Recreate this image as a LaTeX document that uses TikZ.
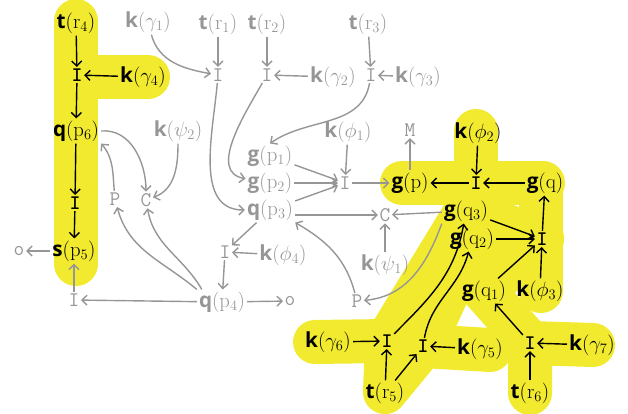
\documentclass[tikz,border=0pt]{standalone}
\usepackage{fontspec}
\setsansfont{Open Sans}
\usetikzlibrary{arrows.meta,backgrounds}
\definecolor{gry}{RGB}{150,150,150}
\definecolor{hl}{RGB}{242,234,46}
\newcommand\fnk[3]{\textsf{\bfseries #1}$(\mathrm{#2}_{#3})$}
\newcommand\fnp[2]{\textsf{\bfseries #1}$(\mathrm{#2})$}
\tikzset{
  lbl/.style={inner sep=2pt, font=\huge},
  gt/.style={lbl, text=gry},
  bt/.style={lbl, text=black},
  ttg/.style={inner sep=1.5pt, font=\ttfamily\huge, text=gry},
  ttb/.style={inner sep=1.5pt, font=\ttfamily\bfseries\huge, text=black},
  arr/.style={-{Straight Barb[length=5pt,width=10pt]}, line width=1.4pt},
  ge/.style={arr, draw=gry},
  be/.style={arr, draw=black},
  hlp/.style={draw=hl, line width=44pt, line cap=round, line join=round}
}
\begin{document}
\begin{tikzpicture}[x=1pt,y=-1pt]
\useasboundingbox (0,0) rectangle (628,414);
% nodes
\node[bt] (tr4) at (76,23) {\fnk{t}{r}{4}};
\node[ttb] (Ia) at (77,75) {I};
\node[bt] (kg4) at (143,77) {\fnk{k}{\gamma}{4}};
\node[bt] (qp6) at (76,131) {\fnk{q}{p}{6}};
\node[ttb] (Ib) at (75,203) {I};
\node[bt] (sp5) at (74,251) {\fnk{s}{p}{5}};
\node[ttg] (oL) at (19,251) {o};
\node[ttg] (Ic) at (74,300) {I};
\node[gt] (qp4) at (222,302) {\fnk{q}{p}{4}};
\node[ttg] (oR) at (290,301) {o};
\node[gt] (kg1) at (148,22) {\fnk{k}{\gamma}{1}};
\node[gt] (tr1) at (218,24) {\fnk{t}{r}{1}};
\node[ttg] (Ir1) at (218,75) {I};
\node[gt] (tr2) at (267,24) {\fnk{t}{r}{2}};
\node[ttg] (Ir2) at (267,75) {I};
\node[gt] (kg2) at (333,77) {\fnk{k}{\gamma}{2}};
\node[gt] (tr3) at (368,24) {\fnk{t}{r}{3}};
\node[ttg] (Ir3) at (371,75) {I};
\node[gt] (kg3) at (418,77) {\fnk{k}{\gamma}{3}};
\node[gt] (kpsi2) at (178,131) {\fnk{k}{\psi}{2}};
\node[ttg] (Pl) at (115,199) {P};
\node[ttg] (Cl) at (146,200) {C};
\node[gt] (kphi1) at (348,132) {\fnk{k}{\phi}{1}};
\node[ttg] (M) at (410,130) {M};
\node[gt] (gp1) at (270,156) {\fnk{g}{p}{1}};
\node[gt] (gp2) at (270,183) {\fnk{g}{p}{2}};
\node[gt] (qp3) at (270,210) {\fnk{q}{p}{3}};
\node[ttg] (Iphi1) at (345,183) {I};
\node[bt] (gp) at (410,183) {\fnp{g}{p}};
\node[ttb] (Iphi2) at (476,183) {I};
\node[bt] (kphi2) at (478,133) {\fnk{k}{\phi}{2}};
\node[bt] (gq) at (545,183) {\fnp{g}{q}};
\node[ttg] (Cm) at (385,215) {C};
\node[gt] (kpsi1) at (385,265) {\fnk{k}{\psi}{1}};
\node[ttg] (Iphi4) at (225,252) {I};
\node[gt] (kphi4) at (283,255) {\fnk{k}{\phi}{4}};
\node[ttg] (Pb) at (357,301) {P};
\node[bt] (gq3) at (466,211) {\fnk{g}{q}{3}};
\node[bt] (gq2) at (472,239) {\fnk{g}{q}{2}};
\node[bt] (gq1) at (484,291) {\fnk{g}{q}{1}};
\node[ttb] (Iq) at (542,239) {I};
\node[bt] (kphi3) at (540,291) {\fnk{k}{\phi}{3}};
\node[bt] (kg6) at (328,342) {\fnk{k}{\gamma}{6}};
\node[ttb] (Ig6) at (387,341) {I};
\node[ttb] (Ig5) at (423,346) {I};
\node[bt] (kg5) at (480,349) {\fnk{k}{\gamma}{5}};
\node[bt] (tr5) at (385,393) {\fnk{t}{r}{5}};
\node[ttb] (Ig7) at (530,343) {I};
\node[bt] (kg7) at (592,345) {\fnk{k}{\gamma}{7}};
\node[bt] (tr6) at (530,393) {\fnk{t}{r}{6}};
% highlight
\begin{scope}[on background layer]
\draw[hlp] (76,21) -- (76,264);
\draw[hlp] (77,77) -- (148,77);
\draw[hlp] (402,183) -- (543,183);
\draw[hlp] (476,131) -- (476,183);
\draw[hlp] (541,183) -- (541,291);
\draw[hlp] (466,211) -- (542,239) -- (472,239);
\draw[hlp] (484,291) -- (542,239);
\draw[hlp] (387,341) -- (466,211);
\draw[hlp] (423,346) -- (472,239);
\draw[hlp] (530,343) -- (484,291);
\draw[hlp] (315,342) -- (387,341) -- (385,392) -- (423,346) -- (490,350);
\draw[hlp] (593,345) -- (530,343) -- (530,393);
\end{scope}
% black edges
\draw[be] (tr4) -- (Ia);
\draw[be] (kg4) -- (Ia);
\draw[be] (Ia) -- (qp6);
\draw[be] (qp6) -- (Ib);
\draw[be] (Ib) -- (sp5);
\draw[be] (kphi2) -- (Iphi2);
\draw[be] (gq) -- (Iphi2);
\draw[be] (Iphi2) -- (gp);
\draw[be] (Iq) -- (gq);
\draw[be] (kphi3) -- (Iq);
\draw[be] (gq3) -- (Iq);
\draw[be] (gq2) -- (Iq);
\draw[be] (gq1) -- (Iq);
\draw[be] (Ig6) to[out=45,in=-100] (gq3);
\draw[be] (Ig5) to[out=80,in=-105] (gq2);
\draw[be] (kg6) -- (Ig6);
\draw[be] (tr5) -- (Ig6);
\draw[be] (tr5) -- (Ig5);
\draw[be] (kg5) -- (Ig5);
\draw[be] (Ig7) -- (gq1);
\draw[be] (kg7) -- (Ig7);
\draw[be] (tr6) -- (Ig7);
% gray edges
\draw[ge] (sp5) -- (oL);
\draw[ge] (Ic) -- (sp5);
\draw[ge] (qp4) -- (Ic);
\draw[ge] (qp4) -- (oR);
\draw[ge] (qp4.north west) to[out=140,in=-75] (Pl);
\draw[ge] ([xshift=5pt]qp4.north west) to[out=120,in=-80] (Cl);
\draw[ge] (Pl) to[out=95,in=-50] (qp6.south east);
\draw[ge] (qp6.east) to[out=5,in=90] (Cl);
\draw[ge] (kpsi2) to[out=-90,in=20] (Cl);
\draw[ge] (kg1) to[out=-75,in=170] (Ir1);
\draw[ge] (tr1) -- (Ir1);
\draw[ge] (tr2) -- (Ir2);
\draw[ge] (kg2) -- (Ir2);
\draw[ge] (tr3) -- (Ir3);
\draw[ge] (kg3) -- (Ir3);
\draw[ge] (Ir1) to[out=-95,in=180] (qp3);
\draw[ge] (Ir2) to[out=-120,in=170] (gp2);
\draw[ge] (Ir3) to[out=-100,in=35] (gp1.north);
\draw[ge] (gp1) -- (Iphi1);
\draw[ge] (gp2) -- (Iphi1);
\draw[ge] (qp3) -- (Iphi1);
\draw[ge] (kphi1) -- (Iphi1);
\draw[ge] (Iphi1) -- (gp);
\draw[ge] (gp) -- (M);
\draw[ge] (qp3.east |- Cm) -- (Cm);
\draw[ge] (gq3) -- (Cm);
\draw[ge] (kpsi1) -- (Cm);
\draw[ge] (qp3) -- (Iphi4);
\draw[ge] (kphi4) -- (Iphi4);
\draw[ge] (Iphi4) -- (qp4);
\draw[ge] (Pb) to[out=105,in=-30] (qp3.south east);
\draw[ge] (gq3.south west) to[out=-110,in=5] (Pb);
\end{tikzpicture}
\end{document}
